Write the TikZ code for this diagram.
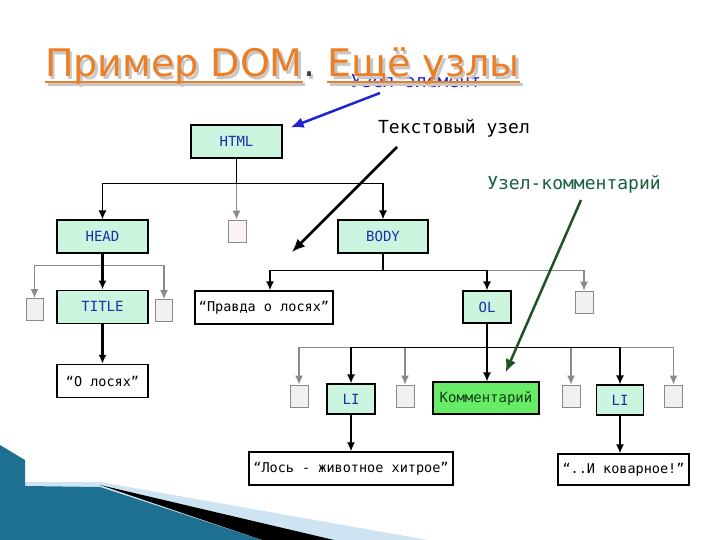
\documentclass[tikz,border=0pt]{standalone}
\usepackage{fontspec}
\setmainfont{DejaVu Sans}
\newfontfamily\monofont{DejaVu Sans Mono}
\usetikzlibrary{arrows.meta,positioning}

\definecolor{titleorange}{RGB}{236,126,38}
\definecolor{elemblue}{RGB}{34,34,210}
\definecolor{notegreen}{RGB}{24,96,64}
\definecolor{arrowgreen}{RGB}{32,82,40}
\definecolor{mint}{RGB}{204,245,224}
\definecolor{tagblue}{RGB}{26,46,172}
\definecolor{commfill}{RGB}{102,236,102}
\definecolor{commtext}{RGB}{20,60,20}
\definecolor{grayline}{RGB}{138,138,138}
\definecolor{stubfill}{RGB}{240,240,240}
\definecolor{pinkfill}{RGB}{252,241,248}
\definecolor{tealdark}{RGB}{30,112,146}
\definecolor{teallight}{RGB}{88,188,224}
\definecolor{bandblue}{RGB}{206,228,242}

\begin{document}
\begin{tikzpicture}[
  x=1pt, y=-1pt,
  heading/.style={font=\fontsize{38}{44}\selectfont, inner sep=0pt},
  uline/.style={line width=2.5pt},
  tag/.style={draw, line width=1.2pt, fill=mint, text=tagblue,
              font=\monofont\fontsize{14}{16}\selectfont,
              minimum height=33pt, inner sep=0pt},
  txt/.style={draw, line width=1.5pt, fill=white,
              font=\monofont\fontsize{13.5}{16}\selectfont,
              minimum height=33pt, inner sep=0pt},
  stub/.style={draw=grayline, fill=stubfill, line width=0.8pt,
               minimum width=17pt, minimum height=22pt, inner sep=0pt},
  note/.style={font=\monofont\fontsize{18}{20}\selectfont, inner sep=0pt},
  tree/.style={line width=1.3pt},
  arr/.style={tree, -{Latex[length=9pt,width=8pt]}},
  garr/.style={arr, draw=grayline},
  callout/.style={line width=2.5pt, -{Latex[length=13pt,width=11pt]}},
]
\useasboundingbox (0,0) rectangle (720,540);

% slide decoration, bottom left
\fill[bandblue] (25,482) -- (100,482) -- (428,540) -- (25,540) -- cycle;
\fill[black] (100,485) -- (334,540) -- (262,540) -- cycle;
\shade[left color=tealdark, middle color=teallight, right color=tealdark]
  (0,445) -- (25,460) -- (25,486) -- (100,487) -- (262,540) -- (0,540) -- cycle;

% heading
\node[note, text=elemblue] (elemlbl) at (416,81) {Узел-элемент};
\node[heading, anchor=base west, text=black!22] (sh1) at (47.5,79.5) {Пример DOM};
\node[heading, base right=0pt of sh1, text=black!22] (shdot) {.};
\node[heading, base right=12pt of shdot, text=black!22] (sh2) {Ещё узлы};
\draw[uline, black!22] ([yshift=-5pt]sh1.base west) -- ([yshift=-5pt]sh1.base east);
\draw[uline, black!22] ([yshift=-5pt]sh2.base west) -- ([yshift=-5pt]sh2.base east);
\node[heading, anchor=base west, text=titleorange] (t1) at (45,77) {Пример DOM};
\node[heading, base right=0pt of t1, text=black!75] (tdot) {.};
\node[heading, base right=12pt of tdot, text=titleorange] (t2) {Ещё узлы};
\draw[uline, titleorange] ([yshift=-5pt]t1.base west) -- ([yshift=-5pt]t1.base east);
\draw[uline, titleorange] ([yshift=-5pt]t2.base west) -- ([yshift=-5pt]t2.base east);

% tree nodes
\node[tag, minimum width=91pt] (html) at (236.5,141.5) {HTML};
\node[tag, minimum width=91pt] (head) at (102.5,236.5) {HEAD};
\node[stub, fill=pinkfill, minimum width=18pt] (pink) at (237,231) {};
\node[tag, minimum width=90pt] (body) at (383,236.5) {BODY};

\node[tag, minimum width=91pt, below=36pt of head] (ttl) {TITLE};
\node[stub] (hstubl) at (34.5,309.5) {};
\node[stub] (hstubr) at (164,310.5) {};
\node[txt, minimum width=91pt, below=40pt of ttl] (olos) {“О лосях”};

\node[txt, minimum width=138pt] (pravda) at (264,307.5) {“Правда о лосях”};
\node[tag, minimum width=48pt, minimum height=32pt] (ol) at (487,307) {OL};
\node[stub, minimum width=18pt] (bstub) at (584,302) {};

\node[stub, minimum width=18pt] (ostub1) at (299,396) {};
\node[tag, minimum width=48pt, minimum height=30pt] (li1) at (351,399) {LI};
\node[stub, minimum width=18pt] (ostub2) at (405,396) {};
\node[tag, fill=commfill, text=commtext, minimum width=106pt,
      minimum height=32pt] (comm) at (486,398) {Комментарий};
\node[stub, minimum width=18pt] (ostub3) at (571,396) {};
\node[tag, minimum width=47pt, minimum height=30pt] (li2) at (620,400) {LI};
\node[stub, minimum width=18pt] (ostub4) at (673.5,396) {};

\node[txt, minimum width=204pt] (los) at (351,468.5) {“Лось - животное хитрое”};
\node[txt, minimum width=131pt, minimum height=31pt] (kov) at (623.5,469.5)
  {“..И коварное!”};

% html
\path (html.south) ++(0,25) coordinate (jhtml);
\draw[garr] (jhtml) -- (jhtml |- pink.north);
\draw[tree] (html.south) -- (jhtml);
\draw[arr] (jhtml) -| (head.north);
\draw[arr] (jhtml) -| (body.north);

% head
\path (head.south) ++(0,12) coordinate (jhead);
\draw[garr] (jhead) -| (hstubl.north);
\draw[garr] (jhead) -| (hstubr.north);
\draw[arr, line width=2.5pt] (head.south) -- (ttl.north);
\draw[arr, line width=2.5pt] (ttl.south) -- (olos.north);

% body
\path (body.south) ++(0,17) coordinate (jbody);
\draw[garr] (jbody -| ol.north) -| (bstub.north);
\draw[tree] (body.south) -- (jbody);
\draw[arr] (jbody) -| ([xshift=6pt]pravda.north);
\draw[arr] (jbody) -| (ol.north);

% ol
\path (ol.south) ++(0,24) coordinate (jol);
\draw[garr] (jol -| li1.north) -| (ostub1.north);
\draw[garr] (jol -| li1.north) -| (ostub2.north);
\draw[garr] (jol -| li2.north) -| (ostub3.north);
\draw[garr] (jol -| li2.north) -| (ostub4.north);
\draw[tree] (ol.south) -- (jol);
\draw[arr] (jol) -| (li1.north);
\draw[arr] (jol) -| (li2.north);
\draw[arr] (jol) -- (jol |- comm.north);
\draw[arr] (li1.south) -- (li1.south |- los.north);
\draw[arr] (li2.south) -- (li2.south |- kov.north);

% callouts
\node[note] (textlbl) at (454,128) {Текстовый узел};
\node[note, text=notegreen] (commlbl) at (574,184) {Узел-комментарий};
\coordinate (elemtail) at (380,93);
\coordinate (texttail) at (397,147);
\coordinate (texttip) at (292,252);
\coordinate (commtail) at (581,200);
\draw[callout, draw=elemblue] (elemtail) -- ([shift={(8,3)}]html.north east);
\draw[callout] (texttail) -- (texttip);
\draw[callout, draw=arrowgreen] (commtail) -- ([shift={(-34,-9)}]comm.north east);
\end{tikzpicture}
\end{document}
